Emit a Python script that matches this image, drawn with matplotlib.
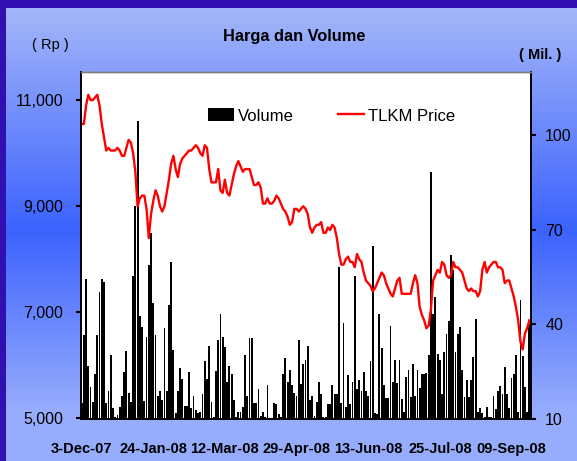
import numpy as np
import matplotlib
matplotlib.use('Agg')
import matplotlib.pyplot as plt
from matplotlib.ticker import FuncFormatter
from matplotlib.colors import LinearSegmentedColormap

plt.rcParams['font.family'] = ['Liberation Sans', 'DejaVu Sans']

# x-axis labels, one every 32 trading days
tick_labels = ['3-Dec-07', '24-Jan-08', '12-Mar-08', '29-Apr-08', '13-Jun-08', '25-Jul-08', '09-Sep-08']
tick_every = 32

# TLKM closing price (Rp)
price = [
    10550, 10550, 10900, 11100, 11000, 11000, 11050, 11100, 10900, 10550,
    10300, 10050, 10100, 10050, 10050, 10050, 10100, 10050, 9950, 9950,
    10100, 10250, 10200, 10000, 9650, 9000, 9150, 9200, 9200, 8950,
    8400, 8850, 9100, 9300, 9200, 9000, 8900, 9000, 9250, 9500,
    9800, 9950, 9700, 9550, 9800, 9900, 9950, 10000, 10050, 10050,
    10100, 10150, 10100, 10000, 9950, 10150, 10100, 9700, 9450, 9450,
    9450, 9700, 9300, 9250, 9500, 9250, 9200, 9400, 9600, 9750,
    9850, 9750, 9650, 9700, 9700, 9700, 9550, 9400, 9400, 9450,
    9350, 9050, 9050, 9150, 9050, 9050, 9100, 9200, 9150, 9050,
    8950, 8900, 8800, 8650, 8700, 8950, 8950, 8900, 8950, 9000,
    8950, 8850, 8600, 8500, 8600, 8650, 8650, 8700, 8500, 8500,
    8600, 8550, 8650, 8600, 8400, 8100, 7900, 7900, 8000, 8050,
    7950, 7950, 7850, 8100, 8000, 7950, 7750, 7600, 7550, 7500,
    7400, 7450, 7550, 7650, 7750, 7700, 7550, 7450, 7350, 7300,
    7450, 7600, 7650, 7350, 7350, 7350, 7350, 7350, 7550, 7700,
    7550, 7100, 6950, 6850, 6700, 6750, 7050, 7600, 7700, 7800,
    7750, 7950, 7900, 7700, 7650, 7700, 7950, 7850, 7850, 7800,
    7750, 7600, 7450, 7400, 7450, 7400, 7400, 7300, 7400, 7800,
    7950, 7750, 7850, 7900, 7950, 7950, 7850, 7850, 7800, 7550,
    7600, 7600, 7450, 7300, 7100, 6850, 6450, 6300, 6600, 6700,
    6850,
]

# daily volume (million shares)
volume = [
    14.8, 36.5, 54.4, 26.7, 20, 15.4, 24, 36.5, 50.3, 54.4,
    53.5, 14.9, 18.9, 30.1, 13.2, 10.5, 11, 13.6, 17.1, 24.7,
    31.4, 18, 15.2, 55.3, 77.4, 104.5, 42.5, 39.1, 15.7, 35.9,
    58.8, 68.9, 46.8, 36.5, 17.3, 18.9, 16, 38.9, 18.9, 46,
    59.7, 31.7, 11.6, 18.9, 26.2, 22.4, 13.9, 13.9, 24.8,
    13.3, 17.3, 12.6, 11.6, 12.2, 17.9, 28.2, 22.4, 33, 15.4,
    10.5, 25, 34.9, 43.2, 35.9, 32.8, 21.6, 26.6, 24, 16,
    10.5, 12, 12, 13.5, 30.1, 17, 35.6, 35.6, 14.8, 14.8,
    19.5, 10.8, 12.2, 10.4, 20.8, 10.2, 10.2, 14.9, 14.6, 11.3,
    10.5, 24, 29.2, 21.5, 25.3, 20.8, 18.2, 17.3, 34.9, 21.1,
    27.4,
    28.7, 33, 16, 17, 10.8, 15.4, 21.5, 17.9, 10.5, 10.5,
    14.5, 14.5, 20.5, 17.9, 17.9, 58.3, 14.8, 40.5, 13.6, 23.7,
    14.5, 21.6, 55.4, 19.5, 22.1, 18.9, 24.7, 18.6, 17, 28.2,
    64.7, 11.8, 11.3, 43.1, 32.4, 20.5, 16.5, 16.5, 39.4, 21.6,
    28.7, 21.3, 28.7, 16.3, 12.2, 23.2, 25.5, 16.8, 27.4, 17.3,
    25.5, 19.7, 24.3, 24, 24.6, 30.1, 88.4, 43.1, 48.5, 30.6,
    28.7, 17.9, 31.2, 37, 41, 62, 57.2, 31.2, 36.8, 39.1,
    25.5, 16.8, 22.1, 16.8, 22.3, 29.6, 41.5, 12, 13.2, 11.6,
    10.5, 13.8, 10.5, 10.5, 17.3, 13, 18.9, 20.2, 17.9, 26.4,
    17.9, 13.2, 22.9, 24.3, 30.1, 12, 47.7, 30, 20, 12,
    40,
]

n = len(price)
x = np.arange(n)

fig = plt.figure(figsize=(5.77, 4.61), dpi=100)

# background panel: vertical blue gradient with a dark frame top/left
bg = fig.add_axes([0, 0, 1, 1], zorder=-10)
cmap = LinearSegmentedColormap.from_list('panel', [
    (0.0, '#a8baf9'), (0.5, '#3c62fe'), (0.89, '#96acfc'), (1.0, '#96acfc')])
grad = np.linspace(0, 1, 256).reshape(-1, 1)
bg.imshow(grad, aspect='auto', cmap=cmap, extent=[0, 1, 0, 1], origin='upper')
bg.add_patch(plt.Rectangle((0, 1 - 8 / 461), 1, 8 / 461, color='#3010b0', lw=0))
bg.add_patch(plt.Rectangle((0, 0), 6 / 577, 1, color='#3010b0', lw=0))
bg.set_xlim(0, 1)
bg.set_ylim(0, 1)
bg.axis('off')

left, right, bottom, top = 80.5 / 577, 530.5 / 577, 1 - 418.5 / 461, 1 - 72.5 / 461
ax_v = fig.add_axes([left, bottom, right - left, top - bottom])
ax_p = ax_v.twinx()

# volume bars on the right axis (crisp, no antialiasing like the original)
ax_v.bar(x, volume, width=0.82, color='black', linewidth=0, antialiased=False,
         label='Volume')
ax_v.set_ylim(10, 120)
ax_v.set_xlim(-0.5, n - 0.5)
ax_v.set_facecolor('white')

# price line on the left axis
ax_p.plot(x, price, color='#ff0000', lw=1.7, label='TLKM Price')
ax_p.set_ylim(5000, 11520)

# price scale on the left, volume scale on the right
ax_p.yaxis.tick_left()
ax_v.yaxis.tick_right()
ax_p.set_yticks([5000, 7000, 9000, 11000])
ax_p.yaxis.set_major_formatter(FuncFormatter(lambda v, p: f'{int(v):,}'))
ax_v.set_yticks([10, 40, 70, 100])

ax_p.tick_params(axis='y', direction='out', length=3.6, width=1.5, pad=9, labelsize=11.5)
ax_v.tick_params(axis='y', direction='out', length=3.6, width=1.5, pad=7, labelsize=11.5)

ax_v.set_xticks(x[::tick_every])
ax_v.set_xticklabels(tick_labels, fontsize=10.5, fontweight='bold')
ax_v.tick_params(axis='x', length=0, pad=17)
ax_p.tick_params(axis='x', length=0)

for a in (ax_v, ax_p):
    for s in ('left', 'right', 'bottom'):
        a.spines[s].set_color('black')
        a.spines[s].set_linewidth(1.2)
    a.spines['top'].set_color('#808080')
    a.spines['top'].set_linewidth(1.0)

fig.text(294 / 577, 1 - 36 / 461, 'Harga dan Volume', ha='center', va='center',
         fontsize=11.8, fontweight='bold')
fig.text(50 / 577, 1 - 45 / 461, '( Rp )', ha='center', va='center', fontsize=10.5)
fig.text(540 / 577, 1 - 55 / 461, '( Mil. )', ha='center', va='center',
         fontsize=10.5, fontweight='bold')

handles = ax_v.get_legend_handles_labels()[0] + ax_p.get_legend_handles_labels()[0]
labels = ['Volume', 'TLKM Price']
fig.legend(handles, labels, loc='center', bbox_to_anchor=(331.5 / 577, 1 - 116 / 461),
           ncol=2, frameon=False, fontsize=12, handlelength=1.6, handleheight=0.8,
           handletextpad=0.25, columnspacing=2.6, borderpad=0)

fig.savefig('out.png', dpi=100)
